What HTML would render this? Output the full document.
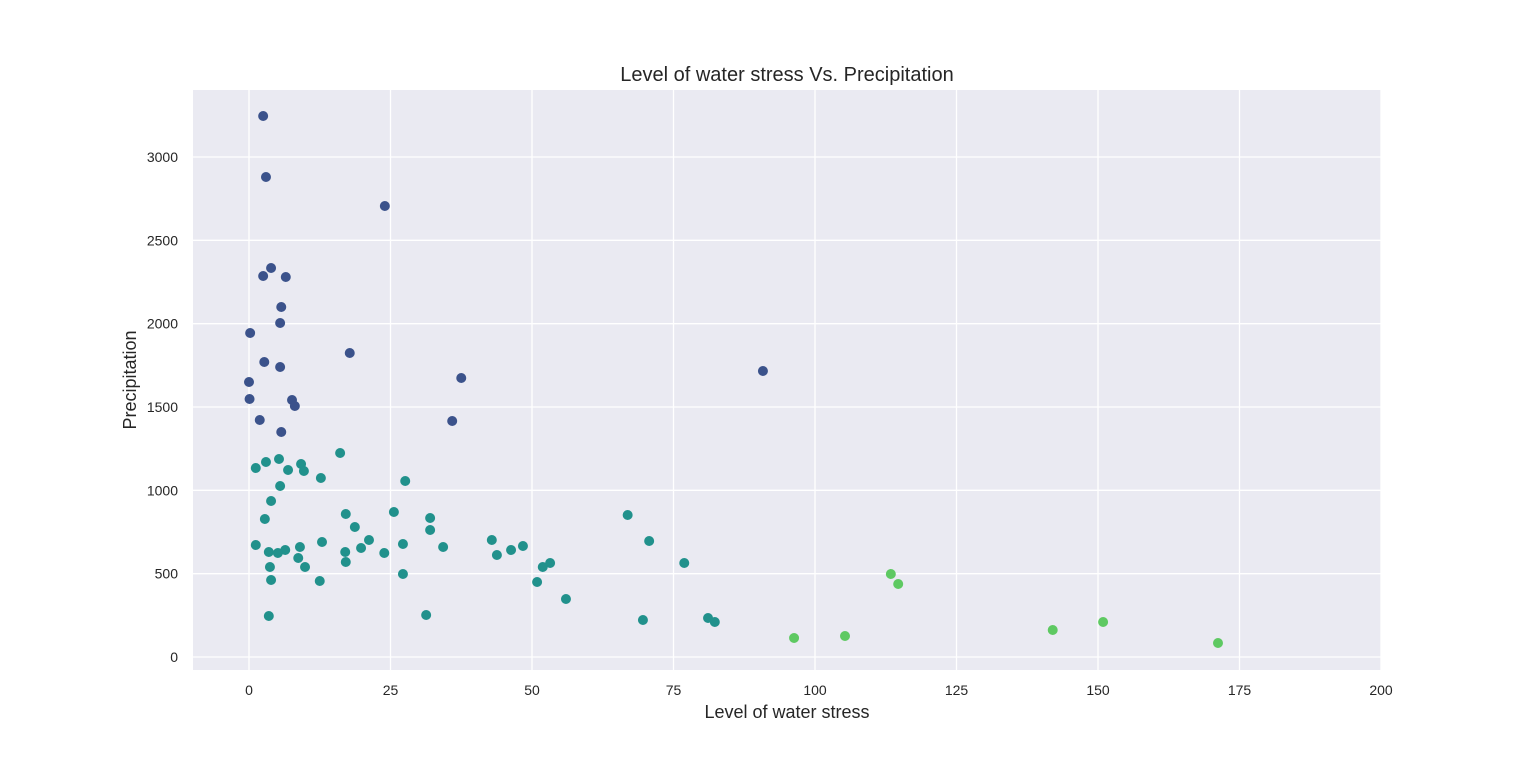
<!DOCTYPE html>
<html><head><meta charset="utf-8"><style>
body{margin:0;background:#fff;font-family:"Liberation Sans",sans-serif;}
</style></head><body>
<svg width="1536" height="754" xmlns="http://www.w3.org/2000/svg" style="font-family:'Liberation Sans',sans-serif">
<rect x="193" y="90" width="1188" height="580" fill="#eaeaf2"/>
<g id="grid"></g>
<g id="ticks"></g>
<g id="points"></g>
<text x="787" y="81" text-anchor="middle" font-size="20" fill="#262626">Level of water stress Vs. Precipitation</text>
<text x="787" y="718" text-anchor="middle" font-size="18" fill="#262626">Level of water stress</text>
<text transform="translate(136,380) rotate(-90)" text-anchor="middle" font-size="18" fill="#262626">Precipitation</text>
</svg>
<script>
const xTicks=[0,25,50,75,100,125,150,175,200];
const yTicks=[0,500,1000,1500,2000,2500,3000];
const stress=[2.5,3.0,24.0,3.9,2.5,6.5,5.7,5.5,0.2,17.8,2.7,5.5,90.8,37.5,0,0.1,7.6,8.1,1.9,35.9,5.7,
16.1,5.3,3.0,1.2,9.2,6.9,9.7,12.7,27.6,5.5,3.9,25.6,17.1,66.9,32.0,2.8,18.7,32.0,21.2,42.9,70.7,12.9,27.2,1.2,48.4,9.0,34.3,19.8,46.3,6.4,3.5,5.1,17.0,23.9,43.8,8.7,17.1,53.2,76.9,3.7,9.9,51.9,27.2,3.9,12.5,50.9,56.0,31.3,3.5,81.1,69.6,82.3,
113.4,114.7,150.9,142.0,105.3,96.3,171.2];
const precip=[3246,2880,2706,2334,2286,2280,2100,2004,1944,1824,1770,1740,1716,1674,1650,1548,1542,1506,1422,1416,1350,
1224,1188,1170,1134,1158,1122,1116,1074,1056,1026,936,870,858,852,834,828,780,762,702,702,696,690,678,672,666,660,660,654,642,642,630,624,630,624,612,594,570,564,564,540,540,540,498,462,456,450,348,252,246,234,222,210,
498,438,210,162,126,114,84];
const cluster=[0,0,0,0,0,0,0,0,0,0,0,0,0,0,0,0,0,0,0,0,0,
1,1,1,1,1,1,1,1,1,1,1,1,1,1,1,1,1,1,1,1,1,1,1,1,1,1,1,1,1,1,1,1,1,1,1,1,1,1,1,1,1,1,1,1,1,1,1,1,1,1,1,1,
2,2,2,2,2,2,2];
const colors=['#3b528b','#21918c','#5ec962'];
const NS='http://www.w3.org/2000/svg';
const X=v=>249+v*(1381-249)/200;
const Y=v=>657-v*(500/3000);
function mk(t,a){const e=document.createElementNS(NS,t);for(const k in a)e.setAttribute(k,a[k]);return e;}
const grid=document.getElementById('grid'),ticks=document.getElementById('ticks'),pts=document.getElementById('points');
xTicks.forEach(v=>{
 const l=mk('line',{x1:X(v),x2:X(v),y1:90,y2:670,stroke:'#fff','stroke-width':1.3});
 
 
 grid.appendChild(l);
 const t=mk('text',{x:X(v),y:695,'text-anchor':'middle','font-size':14,fill:'#262626'});t.textContent=v;
 
 
 ticks.appendChild(t);
});
yTicks.forEach(v=>{
 const l=mk('line',{x1:193,x2:1381,y1:Y(v),y2:Y(v),stroke:'#fff','stroke-width':1.3});
 
 
 grid.appendChild(l);
 const t=mk('text',{x:178,y:Y(v)+5,'text-anchor':'end','font-size':14,fill:'#262626'});t.textContent=v;
 
 
 ticks.appendChild(t);
});
stress.forEach((s,i)=>{
 const c=mk('circle',{cx:X(s),cy:Y(precip[i]),r:5,fill:colors[cluster[i]]});
 
 
 pts.appendChild(c);
});
</script>
</body></html>
